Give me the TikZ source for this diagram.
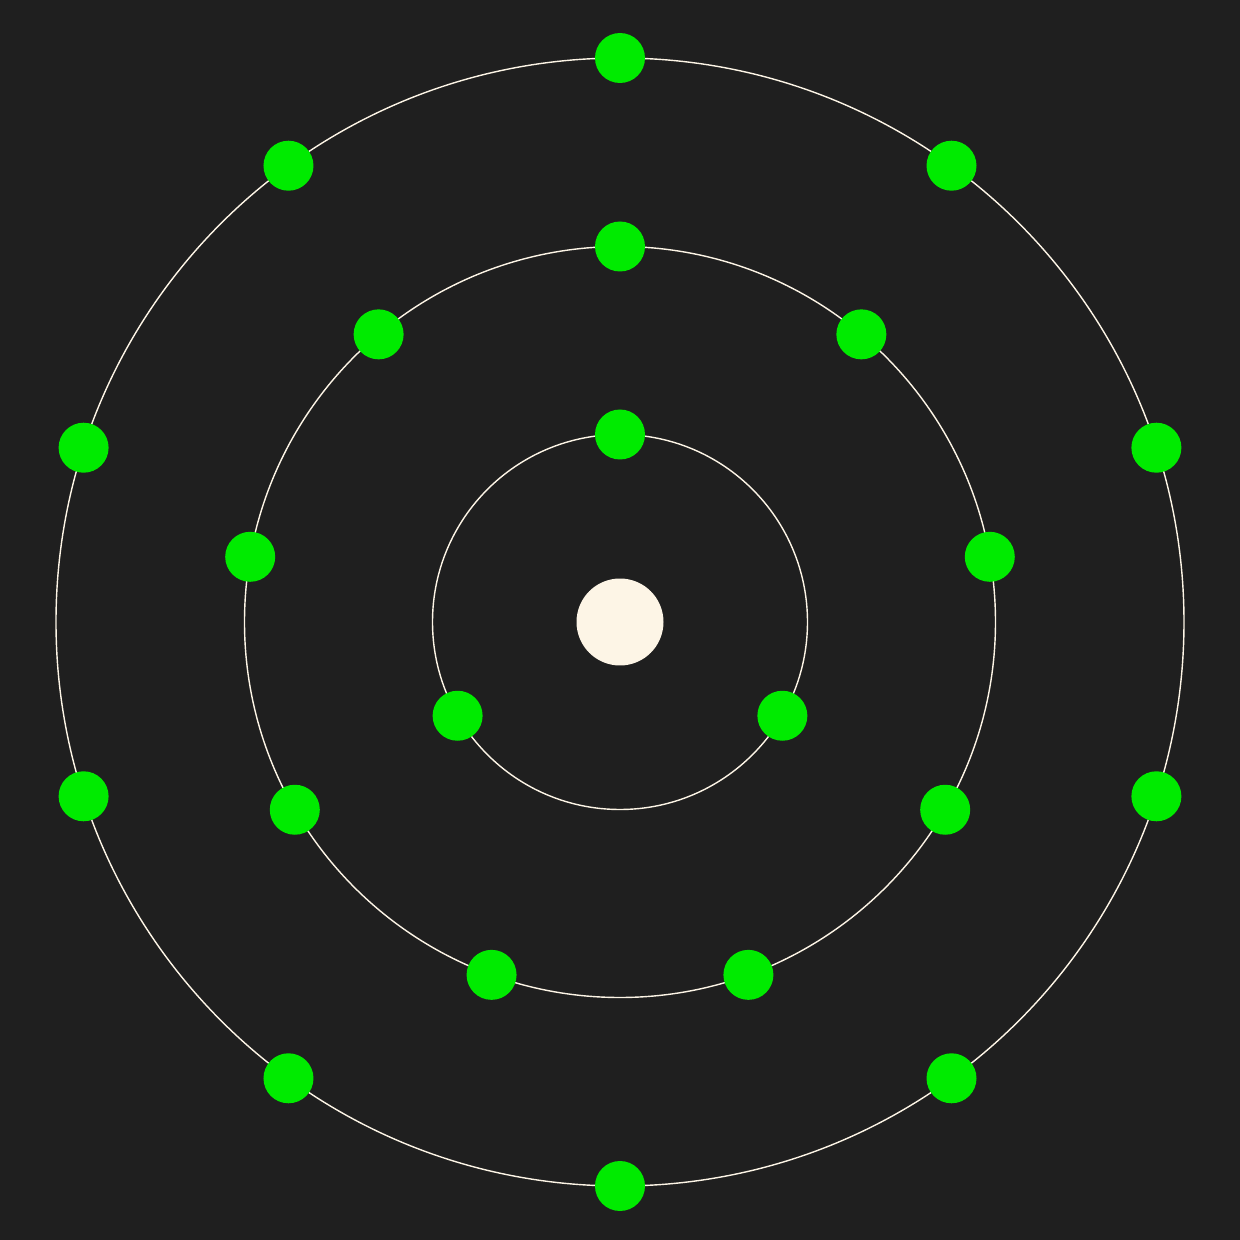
\documentclass[tikz,border=0pt]{standalone}
\usepackage{tikz}
\usetikzlibrary{calc}
\definecolor{bg}{HTML}{1F1F1F}
\definecolor{nuc}{HTML}{FDF5E6}
\definecolor{elec}{RGB}{0,235,0}
\tikzset{
  orbit/.style={draw=nuc, line width=0.4pt},
  electron/.style={circle, fill=elec, draw=none, minimum size=0.5cm, inner sep=0pt},
  nucleus/.style={circle, fill=nuc, draw=none, minimum size=0.87cm, inner sep=0pt}
}
\begin{document}
\begin{tikzpicture}
\fill[bg] (0,0) rectangle (12.4,12.4);
\useasboundingbox (0,0) rectangle (12.4,12.4);
\coordinate (c) at (6.20,6.18);
\draw[orbit] (c) circle (1.875);
\draw[orbit] (c) circle (3.755);
\draw[orbit] (c) circle (5.64);
\node[nucleus] (n) at (c) {};
\foreach \i in {0,1,2} {
  \node[electron] (a\i) at ($(c)+({90+120*\i}:1.875)$) {};
}
\foreach \i in {0,...,8} {
  \node[electron] (b\i) at ($(c)+({90+40*\i}:3.755)$) {};
}
\foreach \i in {0,...,9} {
  \node[electron] (d\i) at ($(c)+({90+36*\i}:5.64)$) {};
}
\end{tikzpicture}
\end{document}
